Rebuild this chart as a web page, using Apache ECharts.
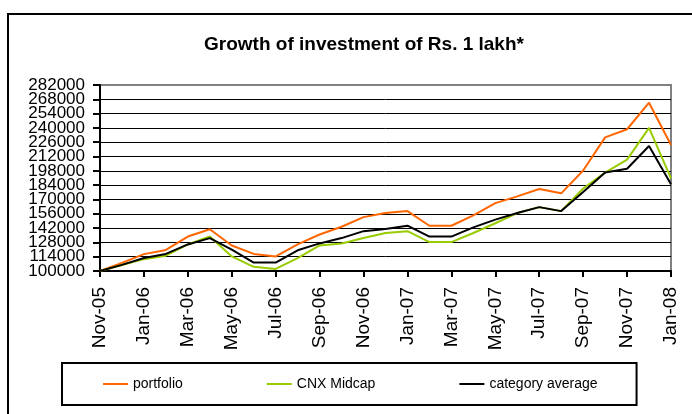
<!DOCTYPE html>
<html>
<head>
<meta charset="utf-8">
<title>Growth of investment</title>
<script src="https://cdn.jsdelivr.net/npm/echarts@6/dist/echarts.min.js"></script>
<style>
  html, body { margin: 0; padding: 0; background: #fff; }
  #chart { width: 692px; height: 414px; }
</style>
</head>
<body>
<div id="chart"></div>
<script>
// 月份（类目轴）
const months = [
  "Nov-05", "Dec-05", "Jan-06", "Feb-06", "Mar-06", "Apr-06", "May-06",
  "Jun-06", "Jul-06", "Aug-06", "Sep-06", "Oct-06", "Nov-06", "Dec-06",
  "Jan-07", "Feb-07", "Mar-07", "Apr-07", "May-07", "Jun-07", "Jul-07",
  "Aug-07", "Sep-07", "Oct-07", "Nov-07", "Dec-07", "Jan-08"
];
// 各系列数值
const portfolio = [
  100000, 108000, 116500, 120600, 133700, 140800, 125000,
  116700, 114300, 126000, 135700, 143300, 152700, 156700,
  158600, 144300, 144300, 154400, 166400, 173000, 180300,
  176000, 198300, 230700, 238700, 264700, 223300
];
const cnxMidcap = [
  100000, 105800, 111600, 115000, 126000, 133700, 114300,
  104100, 102000, 112600, 125000, 127000, 132200, 137200,
  139000, 128300, 128300, 137200, 146700, 156700, 162500,
  158600, 180700, 196300, 209000, 240000, 190700
];
const categoryAverage = [
  100000, 106000, 112700, 116700, 126000, 132200, 121000,
  108200, 108200, 120300, 127000, 132200, 139000, 141100,
  144300, 133700, 133700, 142700, 150300, 156700, 162500,
  158600, 177300, 196300, 200000, 222300, 185000
];
const seriesNames = ["portfolio", "CNX Midcap", "category average"];
const seriesColors = ["#FF6600", "#99CC00", "#000000"];
const yMin = 100000;
const yMax = 282000;
const yStep = 14000;

const font = "'Liberation Sans', Arial, sans-serif";

let myChart = echarts.init(document.getElementById("chart"), null, { renderer: "canvas" });

// 分割线颜色：最上面一条是灰色边框
let splitColors = [];
for (let v = yMin; v <= yMax; v += yStep) {
  splitColors.push(v === yMax ? "#808080" : "#000000");
}

// 第二个和倒数第二个刻度标签放到另一个轴上，避免被当作重叠隐藏
let nearEnd = (v) => v === yMin + yStep || v === yMax - yStep;

let yLabelStyle = {
  margin: 15,
  hideOverlap: false,
  fontFamily: font,
  fontSize: 17,
  color: "#000"
};

let makeSeries = (name, data, color) => ({
  type: "line",
  name: name,
  data: data,
  yAxisIndex: 0,
  symbol: "none",
  smooth: false,
  color: color,
  lineStyle: { width: 2, color: color },
  emphasis: { disabled: true }
});

let options = {
  animation: false,
  backgroundColor: "#fff",
  graphic: [
    {
      type: "rect",
      shape: { x: 8, y: 14, width: 700, height: 420 },
      style: { fill: "none", stroke: "#000", lineWidth: 2 },
      silent: true
    }
  ],
  title: {
    text: "Growth of investment of Rs. 1 lakh*",
    left: 359,
    textAlign: "center",
    top: 30,
    textStyle: { fontFamily: font, fontSize: 19, fontWeight: "bold", color: "#000" }
  },
  legend: {
    left: 62,
    top: 363,
    padding: [14, 39, 14, 41],
    borderColor: "#000",
    borderWidth: 2,
    borderRadius: 0,
    itemGap: 84,
    itemWidth: 25,
    itemHeight: 2,
    icon: "rect",
    data: seriesNames,
    textStyle: { fontFamily: font, fontSize: 14, color: "#000" }
  },
  grid: {
    left: 100,
    right: 21,
    top: 85,
    bottom: 143,
    show: true,
    borderColor: "#808080",
    borderWidth: 2,
    containLabel: false
  },
  xAxis: {
    type: "category",
    data: months,
    boundaryGap: false,
    axisLine: { lineStyle: { color: "#000", width: 2 } },
    axisTick: { show: true, interval: 1, length: 6, lineStyle: { color: "#000", width: 2 } },
    axisLabel: {
      interval: 1,
      rotate: 90,
      margin: 16,
      fontFamily: font,
      fontSize: 19,
      color: "#000"
    },
    splitLine: { show: false }
  },
  yAxis: [
    {
      type: "value",
      position: "left",
      min: yMin,
      max: yMax,
      interval: yStep,
      axisLine: { show: true, lineStyle: { color: "#000", width: 2 } },
      axisTick: { show: true, length: 7, lineStyle: { color: "#000", width: 2 } },
      axisLabel: Object.assign({}, yLabelStyle, {
        showMinLabel: true,
        showMaxLabel: true,
        formatter: (v) => (nearEnd(v) ? "" : String(v))
      }),
      splitLine: { show: true, lineStyle: { color: splitColors, width: 1 } }
    },
    {
      type: "value",
      position: "left",
      offset: 0,
      min: yMin,
      max: yMax,
      interval: yStep,
      axisLine: { show: false },
      axisTick: { show: false },
      axisLabel: Object.assign({}, yLabelStyle, {
        formatter: (v) => (nearEnd(v) ? String(v) : "")
      }),
      splitLine: { show: false }
    }
  ],
  series: [
    makeSeries(seriesNames[0], portfolio, seriesColors[0]),
    makeSeries(seriesNames[1], cnxMidcap, seriesColors[1]),
    makeSeries(seriesNames[2], categoryAverage, seriesColors[2])
  ]
};

myChart.setOption(options);
</script>
</body>
</html>
